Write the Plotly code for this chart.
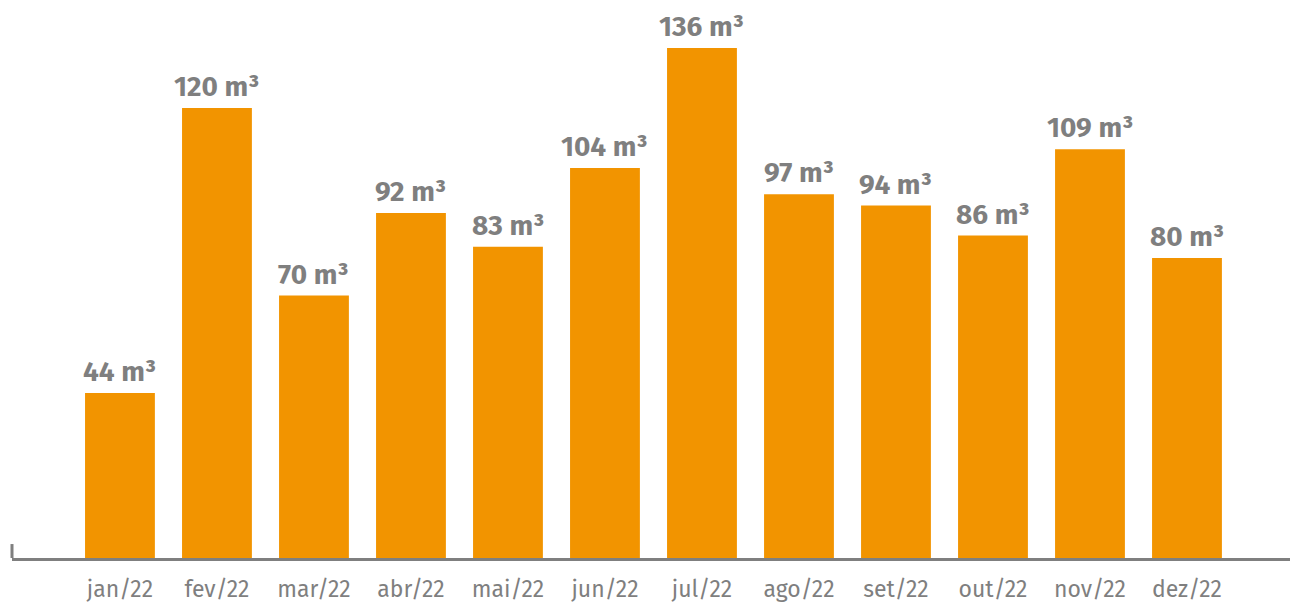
import plotly.graph_objects as go

months = ["jan/22", "fev/22", "mar/22", "abr/22", "mai/22", "jun/22",
          "jul/22", "ago/22", "set/22", "out/22", "nov/22", "dez/22"]
values = [44, 120, 70, 92, 83, 104, 136, 97, 94, 86, 109, 80]
labels = [f"{v} m³" for v in values]

FONT = "Fira Sans, Noto Sans, sans-serif"
xs = list(range(len(months)))

fig = go.Figure(go.Bar(
    x=xs, y=values,
    marker=dict(color="#F29400", line=dict(width=0)),
    width=0.72, hoverinfo="skip",
))

for x, v, t in zip(xs, values, labels):
    fig.add_annotation(x=x, y=v, text=t, showarrow=False, yanchor="bottom",
                       yshift=3, font=dict(family=FONT, size=28, color="#7F7F7F", weight="bold"))

fig.update_layout(
    width=1290, height=604,
    margin=dict(l=12, r=0, t=0, b=46),
    paper_bgcolor="white", plot_bgcolor="white",
    showlegend=False,
    xaxis=dict(
        tickmode="array", tickvals=xs, ticktext=months,
        range=[-1.113, 12.062], showline=True, linecolor="#7F7F7F", linewidth=3,
        showgrid=False, zeroline=False, ticks="", ticklabelstandoff=8,
        tickfont=dict(family=FONT, size=23, color="#7F7F7F"),
    ),
    yaxis=dict(range=[0, 148.8], visible=False, showgrid=False, zeroline=False),
    shapes=[dict(type="line", xref="paper", yref="paper", x0=0, x1=0, y0=0, y1=0.025,
                 line=dict(color="#7F7F7F", width=3))],
)

fig.write_html("out.html", config={"displayModeBar": False},
               post_script="document.body.style.margin='0';document.body.style.overflow='hidden';")
